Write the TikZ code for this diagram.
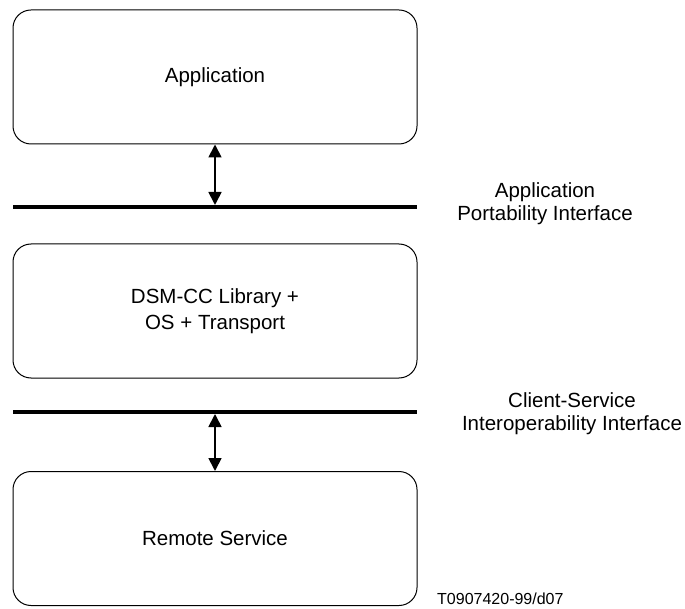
\documentclass[tikz,border=0pt]{standalone}
\usepackage{fontspec}
\setmainfont{Liberation Sans}
\usetikzlibrary{arrows.meta}
\begin{document}
\begin{tikzpicture}[x=1pt,y=-1pt,
  box/.style={draw=black, line width=1pt, rounded corners=18pt, minimum width=404pt, minimum height=134pt, inner sep=0pt, align=center, font=\fontsize{20.5}{26}\selectfont},
  iface/.style={line width=4pt},
  link/.style={line width=1.8pt, {Triangle[length=13pt,width=13pt]}-{Triangle[length=13pt,width=13pt]}},
  lbl/.style={align=center, font=\fontsize{20.5}{23}\selectfont, inner sep=0pt}]
\useasboundingbox (0,0) rectangle (685,609);
\node[box] (app) at (215,77) {Application};
\node[box] (dsm) at (215,311) {DSM-CC Library +\\OS + Transport};
\node[box] (rem) at (215,538.5) {Remote Service};
\coordinate (l1a) at (13,207);
\coordinate (l1b) at (417,207);
\coordinate (l2a) at (13,412);
\coordinate (l2b) at (417,412);
\draw[iface] (l1a) -- (l1b);
\draw[iface] (l2a) -- (l2b);
\coordinate (t1) at (215,205);
\coordinate (t2) at (215,414);
\draw[link] (app.south) -- (t1);
\draw[link] (t2) -- (rem.north);
\node[lbl] (api) at (545,203.5) {Application\\Portability Interface};
\node[lbl] (csi) at (572,413.5) {Client-Service\\Interoperability Interface};
\node[anchor=west, inner sep=0pt, font=\fontsize{16}{18}\selectfont] (code) at (437,599) {T0907420-99/d07};
\end{tikzpicture}
\end{document}
